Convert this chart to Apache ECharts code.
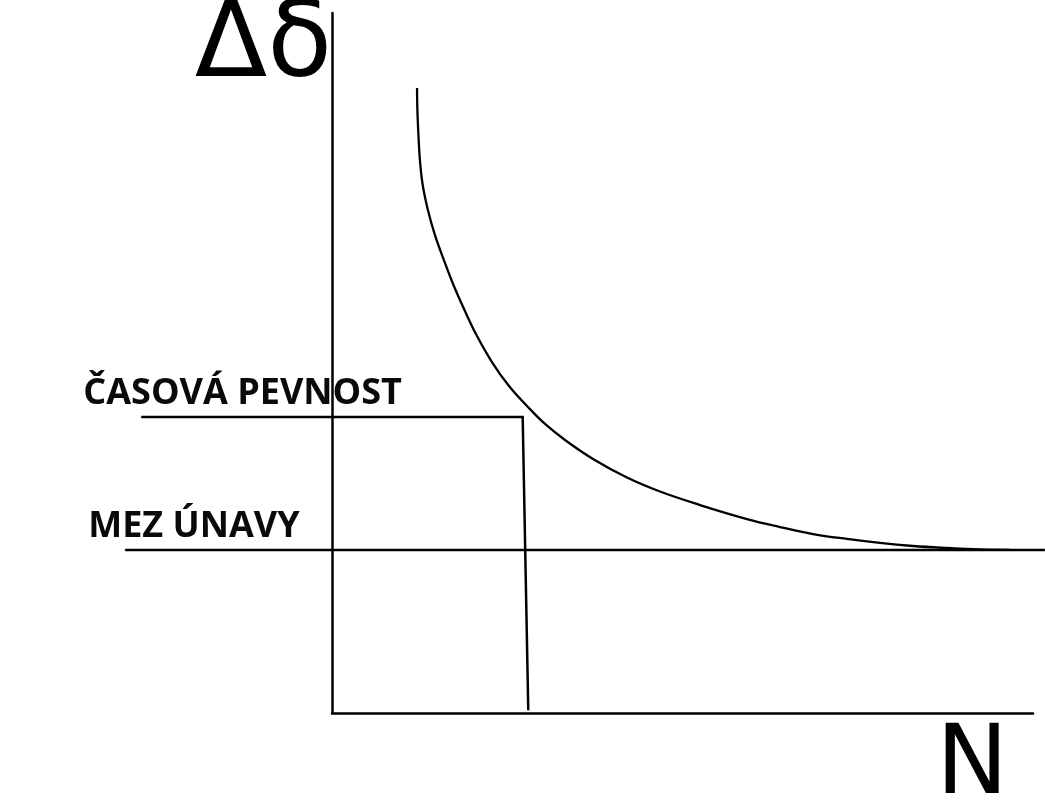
<!DOCTYPE html>
<html>
<head>
<meta charset="utf-8">
<script src="https://cdn.jsdelivr.net/npm/echarts@6/dist/echarts.min.js"></script>
<style>
  html, body { margin: 0; padding: 0; background: #fff; }
  #chart { width: 1045px; height: 800px; }
</style>
</head>
<body>
<div id="chart"></div>
<script>
// Wöhlerova křivka - schéma, osy bez stupnic (0..100)
var curveN = [12.13, 12.18, 12.33, 12.54, 12.94, 13.68, 14.68, 15.96, 17.33, 18.9, 20.61, 22.82, 25.25,
  27.82, 30.39, 33.24, 37.23, 42.08, 46.79, 52.5, 59.2, 63.91, 68.62, 73.47, 78.17, 82.88, 87.73, 92.44, 96.72];
var curveS = [89.29, 86.14, 82.57, 79.0, 75.43, 71.86, 68.29, 64.71, 61.14, 57.57, 54.0, 50.14, 46.71,
  43.86, 41.29, 39.0, 36.29, 33.64, 31.64, 29.71, 27.71, 26.57, 25.57, 24.86, 24.29, 23.86, 23.57, 23.36, 23.3];
// casova pevnost: vodorovne a pak svisle dolu
var casovaN = [-27.2, 27.2, 28.0];
var casovaS = [42.3, 42.3, 0.4];
// mez unavy
var mezN = [-29.5, 101.7];
var mezS = [23.3, 23.3];
var lineLabels = ['ČASOVÁ PEVNOST', 'MEZ ÚNAVY'];
var axisNames = ['N', 'Δδ'];

function pts(xs, ys) {
  return xs.map(function (x, i) { return [x, ys[i]]; });
}

var labelStyle = {
  show: true,
  position: 'top',
  align: 'left',
  fontFamily: 'Open Sans',
  fontWeight: 'bold',
  fontSize: 36,
  color: '#0a0a0a'
};

var chart = echarts.init(document.getElementById('chart'));

var option = {
  animation: false,
  backgroundColor: '#fff',
  grid: { left: 332, right: 12, top: 13, bottom: 87, containLabel: false, outerBoundsMode: 'none' },
  xAxis: {
    type: 'value',
    min: 0,
    max: 100,
    name: axisNames[0],
    nameLocation: 'end',
    nameGap: -25,
    nameTextStyle: { fontFamily: 'DejaVu Sans', fontSize: 96, color: '#000', align: 'right', verticalAlign: 'top', padding: [7, 0, 0, 0] },
    axisLine: { show: true, lineStyle: { color: '#000', width: 2.5 } },
    axisTick: { show: false },
    axisLabel: { show: false },
    splitLine: { show: false }
  },
  yAxis: {
    type: 'value',
    min: 0,
    max: 100,
    name: axisNames[1],
    nameLocation: 'end',
    nameGap: 18,
    nameTextStyle: { fontFamily: 'DejaVu Sans', fontSize: 106, color: '#000', align: 'right', verticalAlign: 'top' },
    axisLine: { show: true, lineStyle: { color: '#000', width: 2.5 } },
    axisTick: { show: false },
    axisLabel: { show: false },
    splitLine: { show: false }
  },
  series: [
    {
      type: 'line',
      data: pts(curveN, curveS),
      smooth: 0.4,
      showSymbol: false,
      lineStyle: { color: '#000', width: 2.3 }
    },
    {
      type: 'lines',
      coordinateSystem: 'cartesian2d',
      polyline: true,
      clip: false,
      silent: true,
      lineStyle: { color: '#000', width: 2.5, opacity: 1, curveness: 0 },
      data: [
        { coords: pts(casovaN, casovaS) },
        { coords: pts(mezN, mezS) }
      ]
    },
    {
      // popisky u levych koncu car
      type: 'scatter',
      clip: false,
      silent: true,
      symbolSize: 1,
      itemStyle: { color: '#000', opacity: 1 },
      data: [
        { value: [casovaN[0], casovaS[0]], label: Object.assign({}, labelStyle, { formatter: lineLabels[0], offset: [-58, 0] }) },
        { value: [mezN[0], mezS[0]], label: Object.assign({}, labelStyle, { formatter: lineLabels[1], offset: [-37, 0] }) }
      ]
    }
  ]
};

chart.setOption(option);
</script>
</body>
</html>
